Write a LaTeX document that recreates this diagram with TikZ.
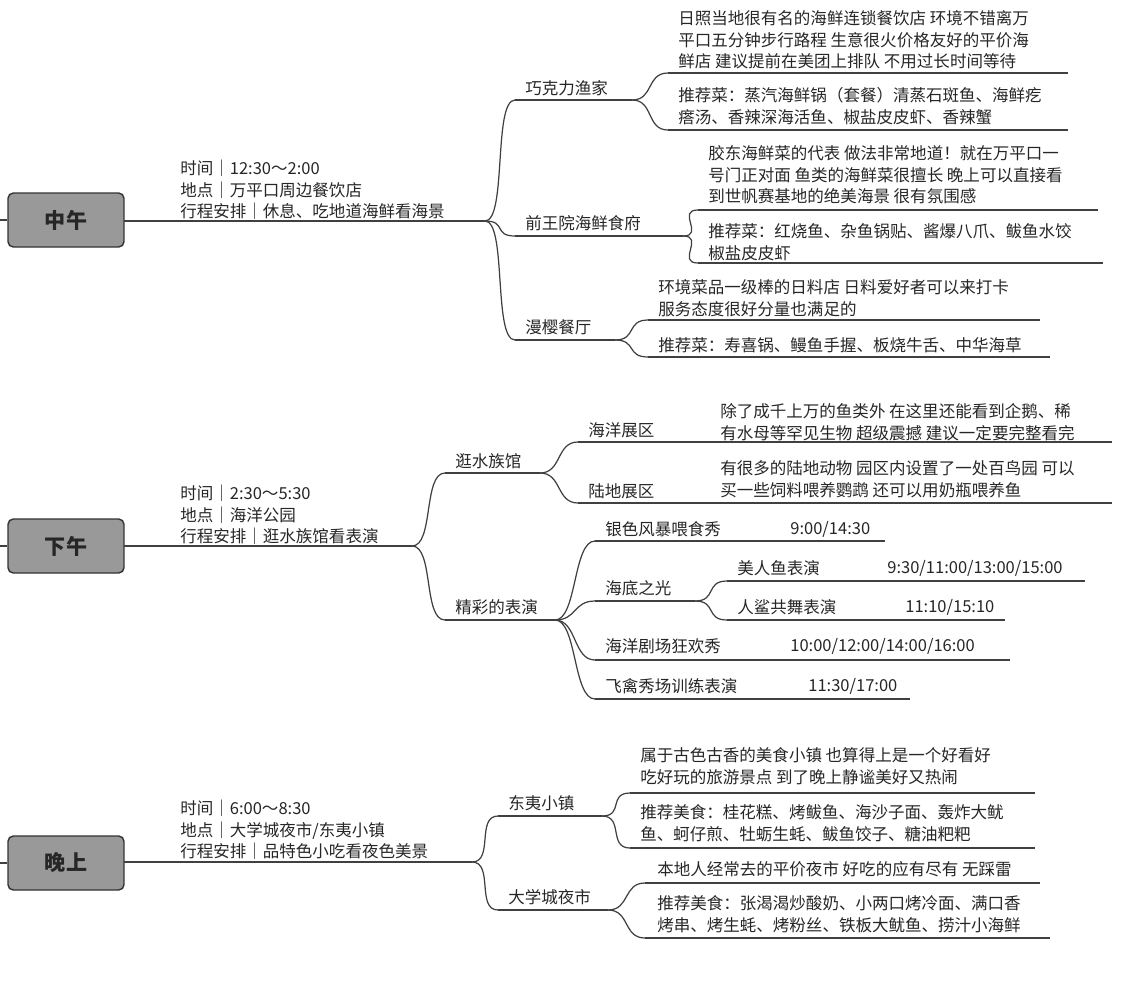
\documentclass[tikz,border=0pt]{standalone}
\usepackage{fontspec}
\setmainfont{Noto Sans CJK SC}
\begin{document}
\newcommand\mmline[7]{%
  \coordinate (#1-s) at (#2,#4);
  \coordinate (#1-e) at (#3,#4);
  \draw[edge] (#1-s) -- (#1-e);
  \node[txt] (#1) at (#5,#6) {#7};}
\newcommand\mmlink[2]{\draw[edge] (#1-e) .. controls +(22,0) and +(-22,0) .. (#2-s);}
\begin{tikzpicture}%
	[x=0.02cm, y=-0.02cm,
	edge/.style={color=black!75, line width=0.7pt},
	txt/.style={anchor=west, inner sep=0pt, align=left, font=\fontsize{9.4}{12.3}\selectfont, text=black!85},
	rootbox/.style={draw=black!80, thick, fill=black!40, rounded corners=3pt, minimum width=2.32cm, minimum height=1.08cm, font=\fontsize{12}{14}\selectfont\bfseries, text=black!85}]
\useasboundingbox (0,0) rectangle (1125,994);
%
%% noon
\node[rootbox] (noon) at (66,220) {中午};
\draw[edge] (0,220) -- (noon.west);
\mmline{info1}{124}{485}{221}{180}{190}{时间｜12:30～2:00\\地点｜万平口周边餐饮店\\行程安排｜休息、吃地道海鲜看海景}
\mmline{qkl}{515}{632}{100}{525}{88}{巧克力渔家}
\mmline{qkla}{668}{1068}{73}{678}{40}{日照当地很有名的海鲜连锁餐饮店 环境不错离万\\平口五分钟步行路程 生意很火价格友好的平价海\\鲜店 建议提前在美团上排队 不用过长时间等待}
\mmline{qklb}{668}{1068}{130}{678}{106}{推荐菜：蒸汽海鲜锅（套餐）清蒸石斑鱼、海鲜疙\\瘩汤、香辣深海活鱼、椒盐皮皮虾、香辣蟹}
\mmline{qwy}{515}{683}{236}{525}{223}{前王院海鲜食府}
\mmline{qwya}{698}{1098}{210}{708}{175}{胶东海鲜菜的代表 做法非常地道！就在万平口一\\号门正对面 鱼类的海鲜菜很擅长 晚上可以直接看\\到世帆赛基地的绝美海景 很有氛围感}
\mmline{qwyb}{698}{1103}{263}{708}{242}{推荐菜：红烧鱼、杂鱼锅贴、酱爆八爪、鲅鱼水饺\\椒盐皮皮虾}
\mmline{my}{515}{615}{340}{525}{327}{漫樱餐厅}
\mmline{mya}{648}{1040}{320}{658}{298}{环境菜品一级棒的日料店 日料爱好者可以来打卡\\服务态度很好分量也满足的}
\mmline{myb}{648}{1050}{357}{658}{345}{推荐菜：寿喜锅、鳗鱼手握、板烧牛舌、中华海草}
\mmlink{info1}{qkl} \mmlink{info1}{qwy} \mmlink{info1}{my}
\mmlink{qkl}{qkla} \mmlink{qkl}{qklb}
\mmlink{qwy}{qwya} \mmlink{qwy}{qwyb}
\mmlink{my}{mya} \mmlink{my}{myb}
%
%% afternoon
\node[rootbox] (aft) at (66,546) {下午};
\draw[edge] (0,546) -- (aft.west);
\mmline{info2}{124}{412}{546}{180}{515}{时间｜2:30～5:30\\地点｜海洋公园\\行程安排｜逛水族馆看表演}
\mmline{sz}{445}{540}{473}{455}{461}{逛水族馆}
\mmline{hy}{578}{675}{442}{588}{430}{海洋展区}
\mmline{hya}{710}{1112}{442}{720}{422}{除了成千上万的鱼类外 在这里还能看到企鹅、稀\\有水母等罕见生物 超级震撼 建议一定要完整看完}
\mmline{ld}{578}{675}{503}{588}{491}{陆地展区}
\mmline{lda}{710}{1112}{503}{720}{479}{有很多的陆地动物 园区内设置了一处百鸟园 可以\\买一些饲料喂养鹦鹉 还可以用奶瓶喂养鱼}
\mmline{by}{445}{555}{620}{455}{607}{精彩的表演}
\mmline{ys}{595}{885}{541}{605}{529}{银色风暴喂食秀}
\node[txt] (yst) at (790,529) {9:00/14:30};
\mmline{hd}{595}{695}{601}{605}{588}{海底之光}
\mmline{mr}{727}{1085}{581}{737}{568}{美人鱼表演}
\node[txt] (mrt) at (887,568) {9:30/11:00/13:00/15:00};
\mmline{rs}{727}{1005}{620}{737}{607}{人鲨共舞表演}
\node[txt] (rst) at (905,607) {11:10/15:10};
\mmline{jc}{595}{1010}{660}{605}{646}{海洋剧场狂欢秀}
\node[txt] (jct) at (790,646) {10:00/12:00/14:00/16:00};
\mmline{fq}{595}{910}{699}{605}{686}{飞禽秀场训练表演}
\node[txt] (fqt) at (808,686) {11:30/17:00};
\mmlink{info2}{sz} \mmlink{info2}{by}
\mmlink{sz}{hy} \mmlink{sz}{ld}
\mmlink{hy}{hya} \mmlink{ld}{lda}
\mmlink{by}{ys} \mmlink{by}{hd} \mmlink{by}{jc} \mmlink{by}{fq}
\mmlink{hd}{mr} \mmlink{hd}{rs}
%
%% evening
\node[rootbox] (eve) at (66,863) {晚上};
\draw[edge] (0,863) -- (eve.west);
\mmline{info3}{124}{472}{862}{180}{830}{时间｜6:00～8:30\\地点｜大学城夜市/东夷小镇\\行程安排｜品特色小吃看夜色美景}
\mmline{dy}{498}{602}{816}{508}{803}{东夷小镇}
\mmline{dya}{630}{1035}{793}{640}{766}{属于古色古香的美食小镇 也算得上是一个好看好\\吃好玩的旅游景点 到了晚上静谧美好又热闹}
\mmline{dyb}{630}{1035}{848}{640}{823}{推荐美食：桂花糕、烤鲅鱼、海沙子面、轰炸大鱿\\鱼、蚵仔煎、牡蛎生蚝、鲅鱼饺子、糖油粑粑}
\mmline{dx}{498}{608}{910}{508}{897}{大学城夜市}
\mmline{dxa}{645}{1040}{883}{657}{869}{本地人经常去的平价夜市 好吃的应有尽有 无踩雷}
\mmline{dxb}{645}{1050}{938}{657}{914}{推荐美食：张渴渴炒酸奶、小两口烤冷面、满口香\\烤串、烤生蚝、烤粉丝、铁板大鱿鱼、捞汁小海鲜}
\mmlink{info3}{dy} \mmlink{info3}{dx}
\mmlink{dy}{dya} \mmlink{dy}{dyb}
\mmlink{dx}{dxa} \mmlink{dx}{dxb}
\end{tikzpicture}
\end{document}
